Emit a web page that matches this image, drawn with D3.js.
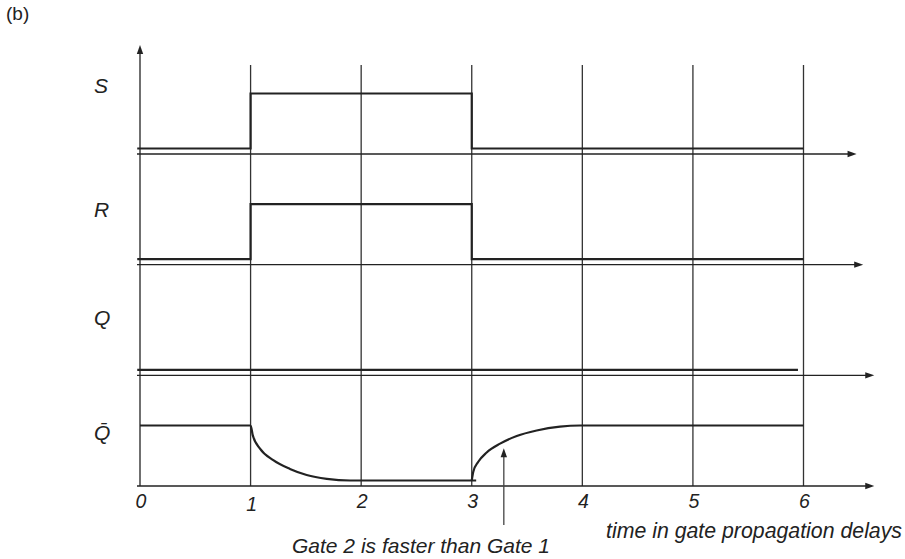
<!DOCTYPE html>
<html>
<head>
<meta charset="utf-8">
<script src="https://cdn.jsdelivr.net/npm/d3@7"></script>
<style>
  html, body { margin: 0; padding: 0; background: #fff; }
  svg { display: block; }
  text { font-family: "Liberation Sans", Arial, sans-serif; fill: #222; }
</style>
</head>
<body>
<svg id="chart"></svg>
<script>
"use strict"

const CHART_WIDTH = 905;
const CHART_HEIGHT = 559;
const X_RANGE = { left: 140, right: 803.5 };
const LANE_RANGE = { top: 154, bottom: 486 };   // axis line of each lane
const LEVEL_PX = { low: 5.5, high: 60.5 };      // distance above lane axis
const GRID_TOP = 65;
const LINE_COLOR = "#222";
const GRID_COLOR = "#333";

// Data
const TIME_TICKS = [0, 1, 2, 3, 4, 5, 6];
const GRID_TIMES = [1, 2, 3, 4, 5, 6];
const SIGNAL_NAMES = ["S", "R", "Q", "Q\u0304"];
const S_TIMES  = [-0.025, 1, 1, 3, 3, 6];
const S_LEVELS = [0, 0, 1, 1, 0, 0];
const R_TIMES  = [-0.025, 1, 1, 3, 3, 6];
const R_LEVELS = [0, 0, 1, 1, 0, 0];
const Q_TIMES  = [-0.025, 5.95];
const Q_LEVELS = [0, 0];
// Q-bar falls after t=1 and rises after t=3
const QBAR_FALL_TIMES  = [0, 1, 1.02, 1.085, 1.205, 1.356, 1.507, 1.689, 1.9, 2, 3.04];
const QBAR_FALL_LEVELS = [1, 1, 0.82, 0.58, 0.37, 0.21, 0.10, 0.03, 0, 0, 0];
const QBAR_RISE_TIMES  = [3, 3.014, 3.059, 3.135, 3.256, 3.407, 3.587, 3.798, 3.98, 6];
const QBAR_RISE_LEVELS = [0, 0.16, 0.34, 0.51, 0.67, 0.81, 0.91, 0.98, 1, 1];
const AXIS_END_TIMES = [6.48, 6.54, 6.64, 6.64];
const NOTE_TIME = 3.29;
const NOTE_LEVEL = 0.585;
const NOTE_TEXT = "Gate 2 is faster than Gate 1";
const X_TITLE = "time in gate propagation delays";
const PANEL_LABEL = "(b)";

function zipSeries(times, levels) {
    return times.map((t, i) => ({ t: t, v: levels[i] }));
}

function arrowHead(g, x, y, dir) {
    // dir: "right" or "up"; tip at (x, y)
    const L = 9, W = 3.2;
    const pts = dir === "right"
        ? [[x, y], [x - L, y - W], [x - L, y + W]]
        : [[x, y], [x - W, y + L], [x + W, y + L]];
    g.append("path")
        .attr("d", d3.line()(pts) + "Z")
        .attr("fill", LINE_COLOR);
}

function drawChart() {
    const svg = d3.select("#chart")
        .attr("width", CHART_WIDTH)
        .attr("height", CHART_HEIGHT);

    const xScale = d3.scaleLinear([0, 6], [X_RANGE.left, X_RANGE.right]);
    const laneScale = d3.scaleLinear([0, 3], [LANE_RANGE.top, LANE_RANGE.bottom]);
    const levelScale = d3.scaleLinear([0, 1], [-LEVEL_PX.low, -LEVEL_PX.high]);

    const bottomY = laneScale(3);

    // Vertical grid lines
    svg.append("g").attr("class", "grid")
        .selectAll("line").data(GRID_TIMES).join("line")
        .attr("x1", d => xScale(d)).attr("x2", d => xScale(d))
        .attr("y1", GRID_TOP).attr("y2", bottomY)
        .attr("stroke", GRID_COLOR).attr("stroke-width", 1.3);

    // Y axis with arrow
    const axes = svg.append("g").attr("class", "axes");
    axes.append("line")
        .attr("x1", xScale(0)).attr("x2", xScale(0))
        .attr("y1", bottomY).attr("y2", 50)
        .attr("stroke", LINE_COLOR).attr("stroke-width", 1.3);
    arrowHead(axes, xScale(0), 45, "up");

    // Lane axes with arrows
    AXIS_END_TIMES.forEach((tEnd, i) => {
        const y = laneScale(i);
        axes.append("line")
            .attr("x1", xScale(0) - 3).attr("x2", xScale(tEnd) - 4)
            .attr("y1", y).attr("y2", y)
            .attr("stroke", LINE_COLOR).attr("stroke-width", 1.3);
        arrowHead(axes, xScale(tEnd), y, "right");
    });

    // Waveforms
    const waves = [
        { lane: 0, data: zipSeries(S_TIMES, S_LEVELS), curve: d3.curveLinear },
        { lane: 1, data: zipSeries(R_TIMES, R_LEVELS), curve: d3.curveLinear },
        { lane: 2, data: zipSeries(Q_TIMES, Q_LEVELS), curve: d3.curveLinear },
        { lane: 3, data: zipSeries(QBAR_FALL_TIMES, QBAR_FALL_LEVELS), curve: d3.curveMonotoneX },
        { lane: 3, data: zipSeries(QBAR_RISE_TIMES, QBAR_RISE_LEVELS), curve: d3.curveMonotoneX }
    ];
    const waveG = svg.append("g").attr("class", "waves");
    waves.forEach(w => {
        const base = laneScale(w.lane);
        const line = d3.line()
            .x(d => xScale(d.t))
            .y(d => base + levelScale(d.v))
            .curve(w.curve);
        waveG.append("path")
            .attr("d", line(w.data))
            .attr("fill", "none")
            .attr("stroke", LINE_COLOR)
            .attr("stroke-width", 2.2);
    });

    // Signal names
    svg.append("g").attr("class", "names")
        .selectAll("text").data(SIGNAL_NAMES).join("text")
        .text(d => d)
        .attr("x", 94)
        .attr("y", (d, i) => laneScale(i) + [-61, -48, -50, -46][i])
        .attr("font-size", 21)
        .attr("font-style", "italic");

    // Tick labels
    svg.append("g").attr("class", "ticks")
        .selectAll("text").data(TIME_TICKS).join("text")
        .text(d => d)
        .attr("x", d => xScale(d) + 1)
        .attr("y", d => bottomY + (d === 1 ? 25 : 22))
        .attr("text-anchor", "middle")
        .attr("font-size", 19.5)
        .attr("font-style", "italic");

    // X title
    svg.append("text")
        .text(X_TITLE)
        .attr("x", 902).attr("y", 538)
        .attr("text-anchor", "end")
        .attr("font-size", 21.3)
        .attr("font-style", "italic");

    // Annotation arrow
    const noteX = xScale(NOTE_TIME);
    const noteTip = bottomY + levelScale(NOTE_LEVEL);
    const noteG = svg.append("g").attr("class", "note");
    noteG.append("line")
        .attr("x1", noteX).attr("x2", noteX)
        .attr("y1", 525).attr("y2", noteTip + 6)
        .attr("stroke", "#444").attr("stroke-width", 1.3);
    arrowHead(noteG, noteX, noteTip, "up");
    noteG.append("text")
        .text(NOTE_TEXT)
        .attr("x", 421).attr("y", 553)
        .attr("text-anchor", "middle")
        .attr("font-size", 21)
        .attr("font-style", "italic");

    // Panel label
    svg.append("text")
        .text(PANEL_LABEL)
        .attr("x", 6).attr("y", 20)
        .attr("font-size", 19);
}

document.addEventListener("DOMContentLoaded", drawChart);
</script>
</body>
</html>
